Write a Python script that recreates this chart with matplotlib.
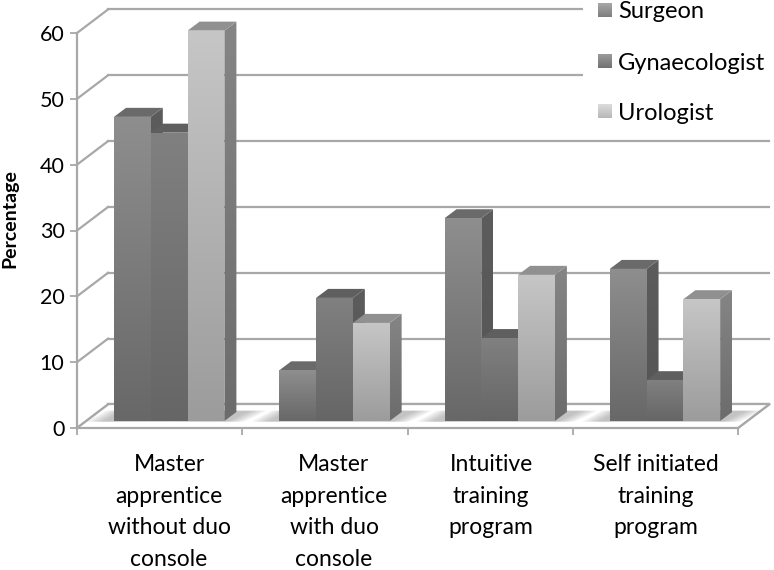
import numpy as np
import matplotlib
matplotlib.use('Agg')
import matplotlib.pyplot as plt
from matplotlib.patches import Polygon

categories = ['Master\napprentice\nwithout duo\nconsole', 'Master\napprentice\nwith duo\nconsole',
              'Intuitive\ntraining\nprogram', 'Self initiated\ntraining\nprogram']
surgeon = [46.2, 7.7, 30.8, 23.1]
gynaecologist = [43.8, 18.7, 12.6, 6.2]
urologist = [59.3, 14.9, 22.2, 18.5]
series = ['Surgeon', 'Gynaecologist', 'Urologist']
yticks = [0, 10, 20, 30, 40, 50, 60]

plt.rcParams['font.family'] = ['Lato', 'DejaVu Sans']

W, H = 774, 570
fig = plt.figure(figsize=(W / 100, H / 100), dpi=100)
ax = fig.add_axes([77 / W, (H - 428) / H, 661 / W, 395 / H])
ax.set_facecolor('none')

# 3d look, all in axis units
wall_dx, wall_dy = 31 / 165.25, 3.57
bar_w = 36.8 / 165.25
bar_x0 = 37 / 165.25
depth_dx, depth_dy = 12 / 165.25, 1.37
lift = 1.06

line_c = '#a8a8a8'
front_c = [('#8e8e8e', '#686868'), ('#808080', '#666666'), ('#c6c6c6', '#9c9c9c')]
side_c = [('#5c5c5c', '#555555'), ('#5c5c5c', '#555555'), ('#858585', '#6c6c6c')]
top_c = ['#6a6a6a', '#5f5f5f', '#909090']


def grad_poly(pts, c_top, c_bot, z):
    pts = np.array(pts)
    rgb = np.linspace(matplotlib.colors.to_rgb(c_top), matplotlib.colors.to_rgb(c_bot), 64)[:, None, :]
    im = ax.imshow(rgb, extent=[pts[:, 0].min(), pts[:, 0].max(), pts[:, 1].min(), pts[:, 1].max()],
                   aspect='auto', origin='upper', zorder=z, interpolation='bilinear')
    im.set_clip_box(fig.bbox)
    im.set_clip_path(Polygon(pts, transform=ax.transData))


# walls and floor
for v in yticks:
    ax.plot([0, wall_dx], [v, v + wall_dy], color=line_c, lw=1.6, clip_on=False, zorder=1)
    ax.plot([wall_dx, 4 + wall_dx], [v + wall_dy, v + wall_dy], color=line_c, lw=1.6, clip_on=False, zorder=1)
ax.plot([4, 4 + wall_dx], [0, wall_dy], color=line_c, lw=1.6, clip_on=False, zorder=1)
ax.add_patch(Polygon([[0, 0], [4, 0], [4 + wall_dx, wall_dy], [wall_dx, wall_dy]], fc='white', ec='none',
                     clip_on=False, zorder=1.5))
ax.plot([wall_dx, 4 + wall_dx], [wall_dy, wall_dy], color=line_c, lw=1.6, clip_on=False, zorder=1.6)
ax.plot([0, wall_dx], [0, wall_dy], color=line_c, lw=1.6, clip_on=False, zorder=1.6)
ax.plot([4, 4 + wall_dx], [0, wall_dy], color=line_c, lw=1.6, clip_on=False, zorder=1.6)

# soft shadow on the floor
for g in range(4):
    x0 = g + bar_x0
    x1 = x0 + 3 * bar_w
    for grow in np.linspace(0.1, 0, 8):
        ax.add_patch(Polygon([[x0 - 0.07 - grow, lift - 0.1], [x1 + 0.02 + grow, lift - 0.1],
                              [x1 + 0.16 + grow, lift + depth_dy + 0.2], [x0 + 0.05 - grow, lift + depth_dy + 0.2]],
                             fc='#808080', ec='none', alpha=0.07, clip_on=False, zorder=1.7))

# bars, left to right so each front covers the neighbour's side
z = 2
for g in range(4):
    for s, vals in enumerate([surgeon, gynaecologist, urologist]):
        v = vals[g]
        x0 = g + bar_x0 + s * bar_w
        x1 = x0 + bar_w
        y0 = lift
        y1 = lift + v
        grad_poly([[x1, y0], [x1 + depth_dx, y0 + depth_dy], [x1 + depth_dx, y1 + depth_dy], [x1, y1]],
                  side_c[s][0], side_c[s][1], z)
        ax.add_patch(Polygon([[x0, y1], [x1, y1], [x1 + depth_dx, y1 + depth_dy], [x0 + depth_dx, y1 + depth_dy]],
                             fc=top_c[s], ec='none', clip_on=False, zorder=z + 0.1))
        grad_poly([[x0, y0], [x1, y0], [x1, y1], [x0, y1]], front_c[s][0], front_c[s][1], z + 0.2)
        z += 1

ax.set_xlim(0, 4)
ax.set_ylim(0, 60)
ax.set_xticks([0, 1, 2, 3, 4])
ax.set_xticklabels([])
ax.set_yticks(yticks)
ax.tick_params(axis='both', color=line_c, width=1.3, length=5)
ax.tick_params(axis='y', labelsize=15.5, pad=4, labelcolor='black')
for sp in ['top', 'right']:
    ax.spines[sp].set_visible(False)
for sp in ['left', 'bottom']:
    ax.spines[sp].set_color(line_c)
    ax.spines[sp].set_linewidth(1.6)
    ax.spines[sp].set_zorder(1.8)
ax.set_ylabel('Percentage', fontsize=14, fontweight='bold')
ax.yaxis.set_label_coords(-0.088, 0.53)

# category labels and legend go on a pixel overlay
ov = fig.add_axes([0, 0, 1, 1])
ov.axis('off')
ov.patch.set_alpha(0)

for lx, lab in zip([169, 334, 491, 656], categories):
    ov.text(lx, 454, lab, ha='center', va='top', fontsize=16.5, linespacing=1.62, color='black')

ov.add_patch(Polygon([[583, 0], [W, 0], [W, 135], [583, 135]], fc='white', ec='none'))
leg_c = [('#a8a8a8', '#7e7e7e'), ('#9a9a9a', '#727272'), ('#dcdcdc', '#b8b8b8')]
for ly, name, c in zip([10, 61, 111], series, leg_c):
    rgb = np.linspace(matplotlib.colors.to_rgb(c[0]), matplotlib.colors.to_rgb(c[1]), 32)[:, None, :]
    ov.imshow(rgb, extent=[598, 612, ly + 7, ly - 7], aspect='auto', interpolation='bilinear', zorder=3)
    ov.text(618, ly + 2, name, ha='left', va='center', fontsize=17, color='black', zorder=3)
ov.set_xlim(0, W)
ov.set_ylim(H, 0)

fig.savefig('out.png', dpi=100, facecolor='white')
